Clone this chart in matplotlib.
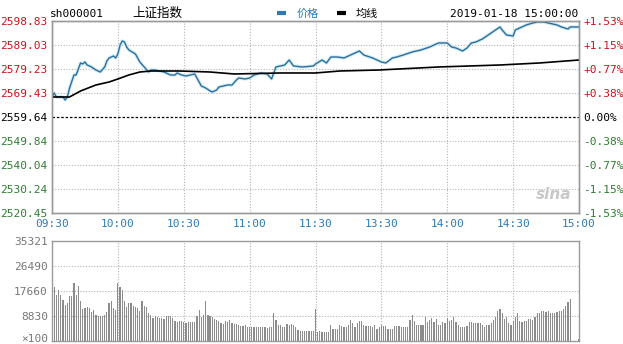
import matplotlib
matplotlib.use("Agg")
import matplotlib.pyplot as plt
from matplotlib.lines import Line2D
import matplotlib.transforms as mtransforms

# ---------------- data ----------------
prev_close = 2559.64
price_ticks = [2520.45, 2530.24, 2540.04, 2549.84, 2559.64, 2569.43, 2579.23, 2589.03, 2598.83]
pct_labels = ["-1.53%", "-1.15%", "-0.77%", "-0.38%", "0.00%", "+0.38%", "+0.77%", "+1.15%", "+1.53%"]
time_ticks = [0, 30, 60, 90, 120, 150, 180, 210, 240]
time_labels = ["09:30", "10:00", "10:30", "11:00", "11:30", "13:30", "14:00", "14:30", "15:00"]
vol_ticks = [0, 8830, 17660, 26490, 35321]
vol_labels = ["×100", "8830", "17660", "26490", "35321"]

price_min = [0, 1, 2, 5, 6, 7, 8, 10, 11, 13, 14, 15, 16, 18, 20, 22, 24, 25, 26, 28, 29, 30,
             31, 32, 33, 34, 35, 38, 40, 42, 44, 45, 47, 49, 51, 54, 56, 57, 59, 61, 63, 65,
             66, 68, 70, 72, 73, 75, 76, 80, 82, 84, 85, 88, 90, 92, 95, 98, 100, 102, 106,
             108, 110, 114, 119, 120, 123, 125, 127, 130, 133, 136, 140, 142, 146, 150, 152,
             155, 157, 160, 164, 168, 172, 174, 176, 180, 182, 184, 187, 189, 191, 193, 196,
             200, 204, 205, 207, 210, 211, 214, 216, 219, 221, 224, 226, 230, 232, 235, 236, 240]
price_val = [2567.81, 2569.44, 2567.81, 2567.81, 2566.58, 2567.81, 2571.48, 2576.79, 2576.79,
             2581.69, 2581.28, 2582.10, 2580.87, 2580.06, 2578.83, 2578.01, 2580.06, 2582.51,
             2583.73, 2584.55, 2583.73, 2585.36, 2589.04, 2590.67, 2590.26, 2588.22, 2587.00,
             2585.36, 2582.10, 2580.06, 2578.01, 2578.83, 2578.83, 2578.42, 2578.01, 2576.79,
             2576.79, 2577.61, 2576.79, 2576.38, 2576.79, 2577.20, 2575.56, 2572.30, 2571.48,
             2570.26, 2569.85, 2570.66, 2571.89, 2572.71, 2572.71, 2574.75, 2575.56, 2575.16,
             2575.56, 2576.79, 2577.61, 2577.20, 2575.16, 2580.06, 2580.87, 2582.91, 2580.46,
             2580.06, 2580.46, 2581.28, 2582.91, 2581.69, 2584.14, 2584.14, 2583.73, 2584.96,
             2586.59, 2584.96, 2583.73, 2582.10, 2581.69, 2583.73, 2584.14, 2584.96, 2586.18,
             2587.00, 2588.22, 2589.04, 2589.86, 2589.86, 2588.22, 2587.81, 2586.59, 2587.81,
             2589.86, 2590.26, 2591.49, 2593.94, 2596.39, 2595.16, 2593.12, 2592.71, 2595.16,
             2596.39, 2597.21, 2598.02, 2598.43, 2598.43, 2598.02, 2597.21, 2596.39, 2595.57,
             2596.39, 2596.39]

avg_min = [0, 8, 13, 20, 26, 30, 35, 40, 45, 58, 72, 83, 104, 120, 131, 149, 176, 204, 222, 240]
avg_val = [2567.81, 2567.81, 2570.26, 2572.71, 2573.93, 2575.16, 2576.79, 2578.01, 2578.42,
           2578.42, 2578.01, 2577.20, 2577.61, 2577.61, 2578.42, 2578.83, 2580.06, 2580.87,
           2581.69, 2582.91]

volume = [20950, 19200, 16250, 18000, 16250, 14500, 12700, 13400, 15900, 15900,
          20500, 16250, 19400, 14000, 11300, 11500, 12000, 11500, 10200, 10800,
          9200, 8800, 8700, 8800, 9200, 10200, 13400, 14000, 11500, 10800,
          20500, 19000, 18000, 14000, 12000, 13400, 13400, 12500, 12000, 11500,
          10600, 14000, 12200, 12000, 10000, 9200, 8100, 8700, 8500, 8100,
          8100, 7700, 8700, 8800, 8700, 8100, 7000, 6700, 7000, 7000,
          6700, 6300, 6700, 6700, 6700, 6700, 8800, 10800, 8500, 9200,
          14000, 9200, 8700, 8500, 7700, 7400, 7000, 6300, 6100, 7000,
          6700, 7400, 6300, 6100, 6100, 5500, 5200, 5200, 5500, 5000,
          5000, 5000, 5000, 5000, 5000, 5000, 5000, 4800, 4500, 5000,
          4800, 10000, 7400, 5500, 5500, 5000, 4800, 6000, 5500, 6100,
          5500, 5000, 4000, 3500, 3500, 3500, 3500, 3500, 3500, 3500,
          11300,
          3300, 3400, 3300, 3300, 3300, 3300, 5600, 4100, 4200, 4200,
          5600, 5200, 5000, 4800, 5600, 7400, 6200, 5000, 6200, 7100,
          7100, 5600, 5200, 5200, 5200, 4800, 5600, 4400, 5000, 5600,
          5200, 5200, 4100, 4100, 4100, 5200, 5200, 5200, 5000, 4800,
          5000, 5000, 7400, 9100, 7100, 5600, 5600, 5600, 5600, 8500,
          6700, 7400, 8000, 6700, 7800, 5600, 5600, 6700, 6200, 8000,
          7100, 7400, 8500, 6700, 5600, 5000, 4800, 5000, 5200, 6700,
          6700, 6300, 6300, 6300, 6300, 5600, 5000, 5600, 5600, 6300,
          7400, 8500, 10600, 11200, 10000, 7800, 8500, 6300, 5800, 7100,
          8500, 10000, 7100, 6700, 7100, 7100, 7800, 7800, 7400, 8500,
          9800, 9800, 10600, 10600, 10300, 10600, 10000, 9800, 10000, 10300,
          10600, 10600, 11400, 12400, 13800, 14700, 0, 0, 0, 600]
vol_min = list(range(len(volume)))

# ---------------- style ----------------
W, H = 623, 344
RED = "#c4161c"
GREEN = "#2f7d32"
BLUE_T = "#2b7bb5"
GRID = "#b4b4b4"
FRAME = "#9a9a9a"
MONO = "DejaVu Sans Mono"
CJK = ["Noto Sans CJK SC", "DejaVu Sans"]

fig = plt.figure(figsize=(W / 100, H / 100), dpi=100)
fig.patch.set_facecolor("white")


def px_rect(x0, y0, x1, y1):
    return [x0 / W, 1 - y1 / H, (x1 - x0) / W, (y1 - y0) / H]


ax = fig.add_axes(px_rect(52, 21, 579, 213))
axv = fig.add_axes(px_rect(52, 241, 579, 341))

# ---- main panel ----
ax.set_xlim(0, 240)
ax.set_ylim(price_ticks[0], price_ticks[-1])
for t in time_ticks[1:-1]:
    ax.axvline(t, color=GRID, lw=0.8, ls=(0, (1, 1.5)), zorder=1)
for p in price_ticks[1:-1]:
    if p == prev_close:
        ax.axhline(p, color="black", lw=0.9, ls=(0, (2, 1.5)), zorder=1)
    else:
        ax.axhline(p, color=GRID, lw=0.8, ls=(0, (1, 1.5)), zorder=1)

ax.plot(price_min, price_val, color="#cdeaf5", lw=2.4, zorder=2, solid_joinstyle="round")
ax.plot(price_min, price_val, color="#2f6f9b", lw=1.0, zorder=3)
ax.plot(avg_min, avg_val, color="black", lw=1.2, zorder=3)

ax.set_yticks(price_ticks)
ax.set_yticklabels([f"{p:.2f}" for p in price_ticks], fontfamily=MONO, fontsize=8)
for lab, p in zip(ax.get_yticklabels(), price_ticks):
    lab.set_color(RED if p > prev_close else (GREEN if p < prev_close else "black"))
ax.set_xticks(time_ticks)
ax.set_xticklabels(time_labels, fontfamily=MONO, fontsize=8, color=BLUE_T)
ax.tick_params(length=0, pad=3)
ax.tick_params(axis="x", pad=4)

axr = ax.twinx()
axr.set_ylim(ax.get_ylim())
axr.set_yticks(price_ticks)
axr.set_yticklabels(pct_labels, fontfamily=MONO, fontsize=8)
for lab, p in zip(axr.get_yticklabels(), price_ticks):
    lab.set_color(RED if p > prev_close else (GREEN if p < prev_close else "black"))
axr.tick_params(length=0, pad=3)

for a in (ax, axr):
    for s in a.spines.values():
        s.set_color(FRAME)
        s.set_linewidth(1.0)

ax.text(0.985, 0.055, "sina", transform=ax.transAxes, ha="right", va="bottom",
        fontsize=11, fontstyle="italic", fontweight="bold", color="#c8c8c8", zorder=2)

# ---- volume panel ----
axv.set_xlim(0, 240)
axv.set_ylim(0, vol_ticks[-1])
for t in time_ticks[1:-1]:
    axv.axvline(t, color=GRID, lw=0.8, ls=(0, (1, 1.5)), zorder=1)
for v in vol_ticks[1:-1]:
    axv.axhline(v, color=GRID, lw=0.8, ls=(0, (1, 1.5)), zorder=1)
axv.bar(vol_min, volume, width=0.55, color="#8c8c8c", zorder=2, linewidth=0)
axv.set_xticks([])
axv.set_yticks(vol_ticks)
axv.set_yticklabels(vol_labels, fontfamily=MONO, fontsize=8, color="#777777")
axv.tick_params(length=0, pad=3)
# keep the bottom label inside the figure
lab0 = axv.get_yticklabels()[0]
lab0.set_transform(lab0.get_transform() +
                   mtransforms.ScaledTranslation(0, 3 / 100, fig.dpi_scale_trans))
for s in axv.spines.values():
    s.set_color(FRAME)
    s.set_linewidth(1.0)

# ---- header ----
def ftext(x, y, s, **kw):
    fig.text(x / W, 1 - y / H, s, va="center", **kw)

ftext(50, 14, "sh000001", fontfamily=MONO, fontsize=8, color="black")
ftext(132, 13.5, "上证指数", fontfamily=CJK, fontsize=9, color="black")
fig.add_artist(Line2D([277 / W, 286 / W], [1 - 13 / H, 1 - 13 / H], color="#2b7bb5", lw=3,
                      solid_capstyle="butt"))
ftext(297, 13.5, "价格", fontfamily=CJK, fontsize=8, color="#2b7bb5")
fig.add_artist(Line2D([337 / W, 346 / W], [1 - 13 / H, 1 - 13 / H], color="black", lw=3,
                      solid_capstyle="butt"))
ftext(356, 13.5, "均线", fontfamily=CJK, fontsize=8, color="black")
ftext(578, 14, "2019-01-18 15:00:00", fontfamily=MONO, fontsize=8, color="black", ha="right")

fig.savefig("out.png", dpi=100, facecolor="white")
